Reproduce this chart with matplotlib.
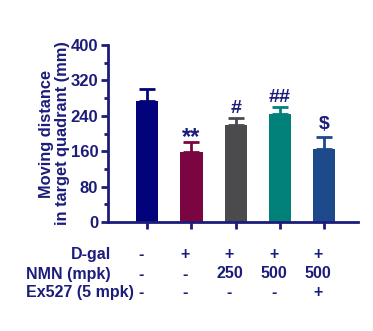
import matplotlib
matplotlib.use("Agg")
import matplotlib.pyplot as plt
from matplotlib.ticker import MultipleLocator
import matplotlib.transforms as mtransforms

plt.rcParams['font.family'] = ['Liberation Sans', 'DejaVu Sans']
plt.rcParams['font.weight'] = 'bold'

groups = ["Control", "D-gal", "NMN250", "NMN500", "NMN500+Ex527"]
means = [273, 158, 219, 244, 165]
errors = [27, 23, 16, 16, 27]
marks = ["", "**", "#", "##", "$"]
row_labels = ["D-gal", "NMN (mpk)", "Ex527 (5 mpk)"]
row_values = [["-", "+", "+", "+", "+"],
              ["-", "-", "250", "500", "500"],
              ["-", "-", "-", "-", "+"]]
bar_colors = ["#02027a", "#7a0540", "#4b4b4d", "#02807a", "#1c4a8a"]
ink = "#1c1c7a"

fig = plt.figure(figsize=(3.73, 3.31), dpi=100)
ax = fig.add_axes([108/373, 1-222/331, (358-108)/373, (222-45)/331])

x = list(range(len(groups)))
ax.bar(x, means, width=0.5, color=bar_colors, zorder=2)
mark_sizes = {"**": 17, "#": 14, "##": 14, "$": 14}
mark_offsets = {"**": -5, "#": 1, "##": 1, "$": 3}
for xi, m, e, c, mk in zip(x, means, errors, bar_colors, marks):
    ax.errorbar(xi, m, yerr=[[0], [e]], fmt='none', ecolor=c, elinewidth=2,
                capsize=6, capthick=2, zorder=1)
    if mk:
        ax.annotate(mk, (xi, m + e), xytext=(0, mark_offsets[mk]),
                    textcoords='offset points', ha='center', va='bottom',
                    fontsize=mark_sizes[mk], fontweight='bold', color=ink)

ax.set_xlim(-0.89, 4.77)
ax.set_ylim(0, 400)
ax.yaxis.set_major_locator(MultipleLocator(80))
ax.yaxis.set_minor_locator(MultipleLocator(40))
ax.set_xticks(x)
ax.set_xticklabels([])
for s in ['top', 'right']:
    ax.spines[s].set_visible(False)
for s in ['left', 'bottom']:
    ax.spines[s].set_color(ink)
    ax.spines[s].set_linewidth(2)
ax.tick_params(axis='both', which='major', color=ink, width=2, length=5,
               labelcolor=ink, labelsize=12, pad=2)
ax.tick_params(axis='y', which='minor', color=ink, width=2, length=3)
for lab in ax.get_yticklabels():
    lab.set_fontweight('bold')
ax.set_ylabel("Moving distance\nin target quadrant (mm)", fontsize=11.8,
              fontweight='bold', color=ink, linespacing=1.1)
ax.yaxis.set_label_coords(-0.15, 0.5)

trans = mtransforms.blended_transform_factory(ax.transData, fig.transFigure)
row_y = [1-255/331, 1-274/331, 1-292/331]
for lbl, ry, vals in zip(row_labels, row_y, row_values):
    if lbl == "D-gal":
        fig.text(111/373, ry, lbl, ha='right', va='center', fontsize=11.5,
                 fontweight='bold', color=ink)
    else:
        fig.text(26/373, ry, lbl, ha='left', va='center', fontsize=11.5,
                 fontweight='bold', color=ink)
    for xi, v in zip(x, vals):
        ax.text(xi - 0.14, ry, v, transform=trans, ha='center', va='center',
                fontsize=11.5, fontweight='bold', color=ink, clip_on=False)

fig.savefig("out.png", dpi=100)
